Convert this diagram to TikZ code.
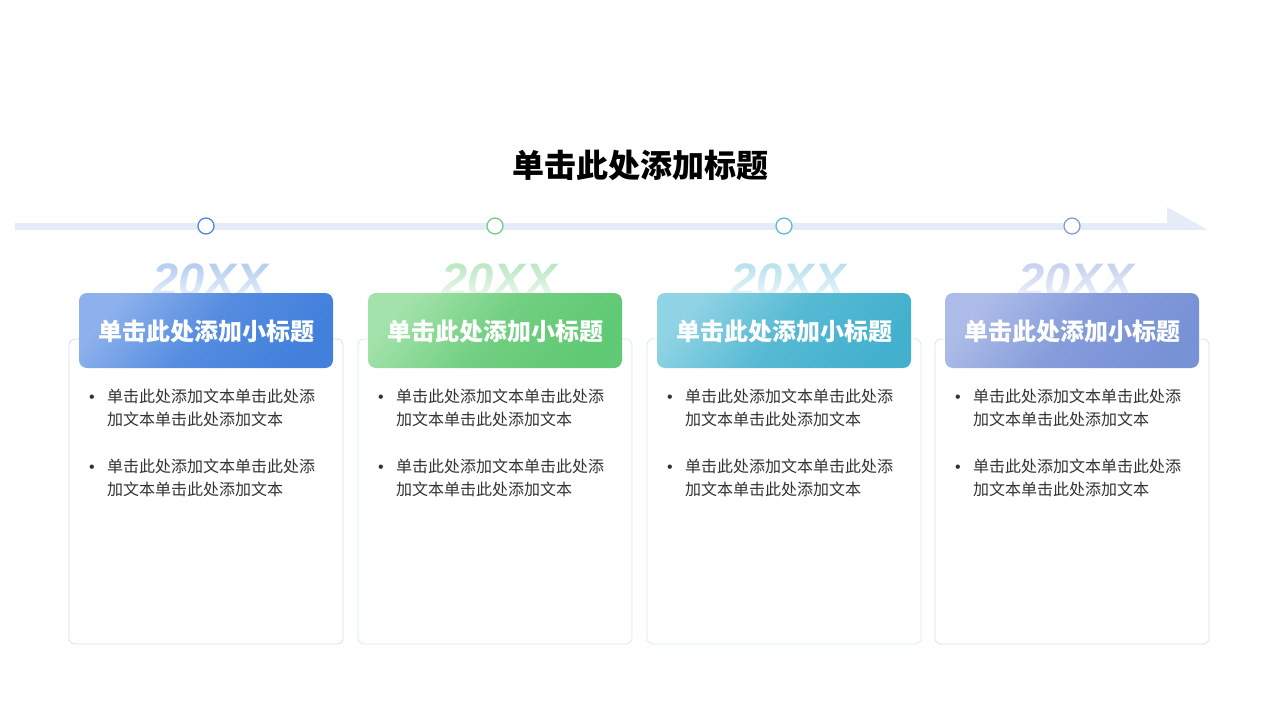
\documentclass[tikz,border=0pt]{standalone}
\usepackage{fontspec}
\setmainfont{Noto Sans CJK SC}
\newfontfamily\latinfont{Liberation Sans}
\usetikzlibrary{fadings}
\definecolor{barcol}{HTML}{E4ECF8}
\definecolor{lt1}{HTML}{8DB1EC}\definecolor{dk1}{HTML}{4280DC}\definecolor{cc1}{HTML}{4A80DC}\definecolor{yr1}{HTML}{B8CEF2}\definecolor{bd1}{HTML}{D3DEF1}
\definecolor{lt2}{HTML}{A3E2AA}\definecolor{dk2}{HTML}{60C973}\definecolor{cc2}{HTML}{6CCB80}\definecolor{yr2}{HTML}{BFE8C6}\definecolor{bd2}{HTML}{D5F0DA}
\definecolor{lt3}{HTML}{90D3E4}\definecolor{dk3}{HTML}{43B1CE}\definecolor{cc3}{HTML}{52B8D2}\definecolor{yr3}{HTML}{BBE3EE}\definecolor{bd3}{HTML}{D2ECF3}
\definecolor{lt4}{HTML}{ADBBE8}\definecolor{dk4}{HTML}{7892D6}\definecolor{cc4}{HTML}{7F95D7}\definecolor{yr4}{HTML}{C8D3F0}\definecolor{bd4}{HTML}{D9DFF2}
\definecolor{bodytext}{HTML}{333333}
\tikzfading[name=fadedown, top color=transparent!100, bottom color=transparent!30]
\begin{document}
\begin{tikzpicture}[x=1pt,y=-1pt,
  dotnode/.style={circle,draw=#1,fill=white,line width=1.2pt,minimum size=16pt,inner sep=0pt},
  cardbox/.style={draw=#1,fill=white,line width=0.8pt,rounded corners=6pt},
  headbox/.style={rounded corners=8pt},
  headtext/.style={text=white,font=\fontsize{24}{28}\selectfont\bfseries,inner sep=0pt},
  yeartext/.style={text=#1,font=\latinfont\fontsize{47}{50}\selectfont\bfseries\itshape,inner sep=0pt,anchor=base},
  bodynode/.style={text=bodytext,font=\fontsize{16}{23}\selectfont,align=left,inner sep=0pt,anchor=west},
  bulletnode/.style={text=bodytext,font=\latinfont\fontsize{16}{23}\selectfont,inner sep=0pt}]
\useasboundingbox (0,0) rectangle (1280,720);
% title
\node[font=\fontsize{32}{38}\selectfont\bfseries,inner sep=0pt] (title) at (640,165) {单击此处添加标题};
% timeline bar with half arrow head
\fill[barcol] (15,223) -- (1167,223) -- (1167,207) -- (1208,230) -- (15,230) -- cycle;
\foreach \i/\cx in {1/206,2/495,3/784,4/1072}{
  % card
  \draw[cardbox=bd\i] (\cx-137,339) rectangle (\cx+137,644);
  % year
  \node[yeartext=yr\i] (year\i) at (\cx+4,296) {20XX};
  \fill[white,path fading=fadedown] (\cx-62,266) rectangle (\cx+70,297);
  % header
  \shade[headbox,top color=lt\i,bottom color=dk\i,middle color=dk\i!75!lt\i,shading angle=50] (\cx-127,293) rectangle (\cx+127,368);
  \node[headtext] (head\i) at (\cx,331) {单击此处添加小标题};
  % bullets
  \node[bulletnode] (b\i a) at (\cx-114,399) {•};
  \node[bodynode] (t\i a) at (\cx-99,407.5) {单击此处添加文本单击此处添\\加文本单击此处添加文本};
  \node[bulletnode] (b\i b) at (\cx-114,469) {•};
  \node[bodynode] (t\i b) at (\cx-99,477.5) {单击此处添加文本单击此处添\\加文本单击此处添加文本};
  % dot
  \node[dotnode=cc\i] (dot\i) at (\cx,226) {};
}
\end{tikzpicture}
\end{document}
